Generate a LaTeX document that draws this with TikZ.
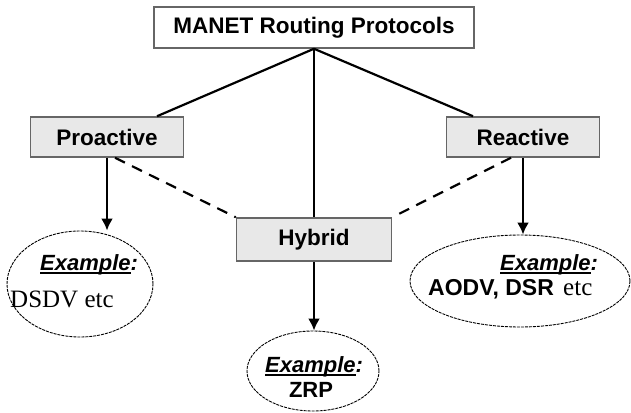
\documentclass[tikz,border=0pt]{standalone}
\usepackage{fontspec}
\setmainfont{Liberation Sans}
\newfontfamily\timesfont{Liberation Serif}
\usepackage{tikz}
\usetikzlibrary{shapes.geometric,arrows.meta,positioning}

\newcommand{\exword}{{\setbox0\hbox{Example}\rlap{\rule[-3.5pt]{\wd0}{1.8pt}}\box0}:}

\tikzset{
  protobox/.style={draw=black!60, line width=1.5pt, fill=black!9, inner sep=0pt,
    minimum width=153pt, minimum height=40pt, font=\fontsize{22.5}{26}\selectfont\bfseries},
  exellipse/.style={ellipse, draw, line width=0.9pt, dash pattern=on 3pt off 1pt, inner sep=0pt},
  link/.style={line width=2.2pt},
  linkarrow/.style={line width=2.2pt, -{Latex[length=12pt,width=12pt]}},
  softlink/.style={line width=2.2pt, dash pattern=on 11pt off 8pt},
  extext/.style={font=\fontsize{22}{26}\selectfont\bfseries\itshape, inner sep=0pt}
}

\begin{document}
\begin{tikzpicture}[x=1pt,y=-1pt]
\useasboundingbox (0,0) rectangle (631,412);
    \node (Manet) [protobox, fill=white, minimum width=320pt, minimum height=41pt] at (314,27.5) {MANET Routing Protocols};
    \node (Pro) [protobox] at (107,137) {Proactive};
    \node (Rea) [protobox] at (523,137) {Reactive};
    \node (Hyb) [protobox, minimum width=155pt, minimum height=43pt] at (314,239.5) {Hybrid};
    % example ellipses
    \node (ExPro) [exellipse, minimum width=146pt, minimum height=106pt] at (80,284) {};
    \node (ExRea) [exellipse, minimum width=220pt, minimum height=92pt] at (520,281) {};
    \node (ExHyb) [exellipse, minimum width=132pt, minimum height=80pt] at (313,371) {};
    \node (ExProA) [extext, anchor=base west] at (40,270) {\exword};
    \node (ExProB) [anchor=base west, inner sep=0pt, font=\fontsize{25}{28}\timesfont] at (10,307) {DSDV etc};
    \node (ExReaA) [extext, anchor=base west] at (500,270) {\exword};
    \node (ExReaB) [anchor=base west, inner sep=0pt, font=\fontsize{23}{26}\selectfont\bfseries] at (428,295) {AODV, DSR};
    \node (ExReaC) [anchor=base west, inner sep=0pt, font=\fontsize{25}{28}\timesfont] at (563,295) {etc};
    \node (ExHybA) [extext, anchor=base west] at (265,372) {\exword};
    \node (ExHybB) [anchor=base, inner sep=0pt, font=\fontsize{22}{26}\selectfont\bfseries] at (311,397) {ZRP};
    \draw[link] (Manet.south) -- ([xshift=50pt]Pro.north);
    \draw[link] (Manet.south) -- ([xshift=-50pt]Rea.north);
    \draw[link] (Manet.south) -- (Hyb.north);
    \draw[softlink] ([xshift=8pt]Pro.south) -- (Hyb.north west);
    \draw[softlink] ([xshift=-12pt]Rea.south) -- (Hyb.north east);
    \draw[linkarrow] (Pro.south) -- (Pro.south |- ExPro.north);
    \draw[linkarrow] (Rea.south) -- (Rea.south |- ExRea.north);
    \draw[linkarrow] (Hyb.south) -- (Hyb.south |- ExHyb.north);
\end{tikzpicture}
\end{document}
